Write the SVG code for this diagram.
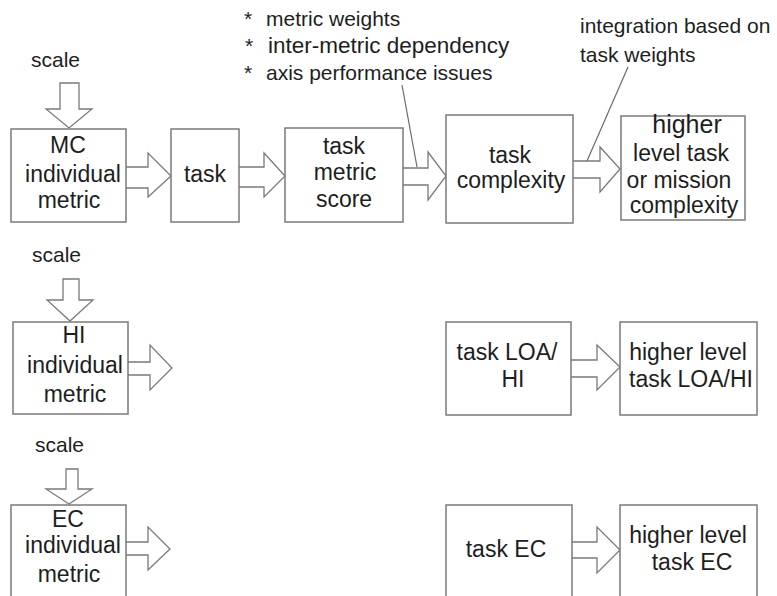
<svg xmlns="http://www.w3.org/2000/svg" width="777" height="596" viewBox="0 0 777 596">
<style>
  .box { fill: #ffffff; stroke: #7a7a7a; stroke-width: 1.5; }
  .arr { fill: #ffffff; stroke: #7a7a7a; stroke-width: 1.3; stroke-linejoin: miter; }
  .lead { fill: none; stroke: #6a6a6a; stroke-width: 1.2; }
  text { font-family: "Liberation Sans", Arial, sans-serif; fill: #1e1e1e; }
  .t { font-size: 23px; text-anchor: middle; }
  .n { font-size: 21px; }
</style>
<rect width="777" height="596" fill="#ffffff"/>

<g id="annotations">
  <text class="n" x="244" y="26">*</text>
  <text class="n" x="266" y="26">metric weights</text>
  <text class="n" x="245" y="53">*</text>
  <text class="n" x="268" y="53" style="font-size:22.5px">inter-metric dependency</text>
  <text class="n" x="244" y="80">*</text>
  <text class="n" x="266" y="80">axis performance issues</text>
  <text class="n" x="580" y="33">integration based on</text>
  <text class="n" x="580" y="62">task weights</text>
  <text class="n" x="31" y="67">scale</text>
  <text class="n" x="32" y="262">scale</text>
  <text class="n" x="35" y="452">scale</text>
</g>

<g id="connectors">
  <!-- scale arrows -->
  <path class="arr" d="M60,83 H79 V109 H92 L69,128 L46,109 H60 Z"/>
  <path class="arr" d="M63,279 H79 V300 H93 L70,321 L47,300 H63 Z"/>
  <path class="arr" d="M66,469 H78 V489 H92 L69,504 L46,489 H66 Z"/>
  <!-- row 1 -->
  <path class="arr" d="M126,167 H148 V153 L171,176 L148,197 V188 H126"/>
  <path class="arr" d="M239,167 H264 V153 L285,176 L264,197 V187 H239"/>
  <path class="arr" d="M403,168 H428 V152 L446,176 L428,200 V185 H403"/>
  <path class="arr" d="M573,161 H600 V147 L620,169 L600,192 V178 H573"/>
  <!-- row 2 -->
  <path class="arr" d="M128,362 H150 V345 L172,368 L150,390 V375 H128"/>
  <path class="arr" d="M571,360 H597 V345 L620,367 L597,390 V377 H571"/>
  <!-- row 3 -->
  <path class="arr" d="M126,542 H148 V527 L170,549 L148,570 V555 H126"/>
  <path class="arr" d="M572,542 H597 V527 L620,550 L597,573 V558 H572"/>
  <!-- leader lines -->
  <line class="lead" x1="402" y1="85" x2="417" y2="167"/>
  <line class="lead" x1="628" y1="67" x2="587" y2="161"/>
</g>

<g id="mc-metric">
  <rect class="box" x="11" y="129" width="115" height="93"/>
  <text class="t" x="68" y="153">MC</text>
  <text class="t" x="73" y="182">individual</text>
  <text class="t" x="69" y="208">metric</text>
</g>
<g id="task">
  <rect class="box" x="171" y="129" width="68" height="93"/>
  <text class="t" x="205" y="182">task</text>
</g>
<g id="task-metric-score">
  <rect class="box" x="285" y="128" width="118" height="94"/>
  <text class="t" x="344" y="154">task</text>
  <text class="t" x="345" y="180">metric</text>
  <text class="t" x="344" y="207">score</text>
</g>
<g id="task-complexity">
  <rect class="box" x="446" y="115" width="127" height="108"/>
  <text class="t" x="510" y="163">task</text>
  <text class="t" x="511" y="188">complexity</text>
</g>
<g id="higher-complexity">
  <rect class="box" x="621" y="116" width="124" height="104"/>
  <text class="t" x="687" y="133" style="font-size:25px">higher</text>
  <text class="t" x="681" y="161">level task</text>
  <text class="t" x="679" y="188">or mission</text>
  <text class="t" x="684" y="213">complexity</text>
</g>

<g id="hi-metric">
  <rect class="box" x="13" y="322" width="115" height="92"/>
  <text class="t" x="74" y="343">HI</text>
  <text class="t" x="75" y="373">individual</text>
  <text class="t" x="75" y="402">metric</text>
</g>
<g id="task-loa-hi">
  <rect class="box" x="446" y="322" width="125" height="93"/>
  <text class="t" x="507" y="360">task LOA/</text>
  <text class="t" x="513" y="387">HI</text>
</g>
<g id="higher-loa-hi">
  <rect class="box" x="620" y="322" width="137" height="93"/>
  <text class="t" x="688" y="360">higher level</text>
  <text class="t" x="691" y="387">task LOA/HI</text>
</g>

<g id="ec-metric">
  <rect class="box" x="11" y="505" width="115" height="100"/>
  <text class="t" x="68" y="527">EC</text>
  <text class="t" x="73" y="553">individual</text>
  <text class="t" x="69" y="582">metric</text>
</g>
<g id="task-ec">
  <rect class="box" x="446" y="505" width="126" height="100"/>
  <text class="t" x="506" y="557">task EC</text>
</g>
<g id="higher-ec">
  <rect class="box" x="620" y="505" width="137" height="100"/>
  <text class="t" x="688" y="543">higher level</text>
  <text class="t" x="692" y="570">task EC</text>
</g>
</svg>
